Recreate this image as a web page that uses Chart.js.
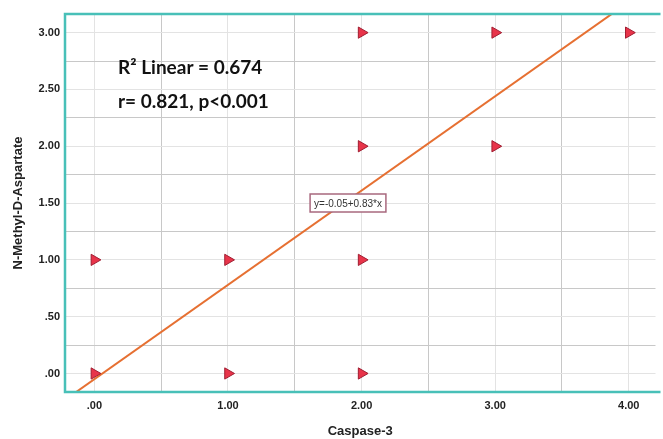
<!DOCTYPE html>
<html>
<head>
<meta charset="utf-8">
<script src="https://cdn.jsdelivr.net/npm/chart.js@4/dist/chart.umd.min.js"></script>
<style>
  html, body { margin: 0; padding: 0; background: #fff; }
  #wrap { width: 663px; height: 439px; position: relative; }
</style>
</head>
<body>
<div id="wrap"><canvas id="chart"></canvas></div>
<script>
// observed values (Caspase-3 vs N-Methyl-D-Aspartate)
const caspase3 = [0, 0, 1, 1, 2, 2, 2, 2, 3, 3, 4];
const nmda     = [1, 0, 1, 0, 3, 2, 1, 0, 3, 2, 3];

// fit line reported on the chart
const fitIntercept = -0.05;
const fitSlope = 0.83;
const fitLabel = 'y=-0.05+0.83*x';
const statLines = ['R² Linear = 0.674', 'r= 0.821, p<0.001'];

// axis ticks
const xTicks = [0, 1, 2, 3, 4];
const yTicks = [0, 0.5, 1, 1.5, 2, 2.5, 3];

const xMin = -0.22, xMax = 4.2;
const yMin = -0.163, yMax = 3.164;

const fmt = v => v.toFixed(2).replace(/^0\./, '.');
const near = (list, v) => list.some(t => Math.abs(t - v) < 1e-6);

function gridValues(from, to, step) {
    const out = [];
    for (let v = from; v <= to + 1e-9; v += step) out.push(Math.round(v * 100) / 100);
    return out;
}

const teal = 'rgb(72, 192, 184)';
const gridLight = '#e3e3e3';
const gridDark = '#c8c8c8';

const overlay = {
    id: 'overlay',
    afterDatasetsDraw(chart) {
        const { ctx } = chart;
        ctx.save();
        // stats text
        ctx.fillStyle = '#111';
        ctx.font = 'bold 19px Lato';
        ctx.textBaseline = 'middle';
        ctx.textAlign = 'left';
        ctx.fillText(statLines[0], 118, 68);
        ctx.fillText(statLines[1], 118, 102);

        // equation box
        ctx.font = '10px "Liberation Sans"';
        const cx = 348, cy = 203;
        const w = ctx.measureText(fitLabel).width + 8;
        ctx.fillStyle = '#fff';
        ctx.fillRect(cx - w / 2, cy - 9, w, 18);
        ctx.strokeStyle = '#a8687e';
        ctx.lineWidth = 1.5;
        ctx.strokeRect(cx - w / 2, cy - 9, w, 18);
        ctx.fillStyle = '#333';
        ctx.textAlign = 'center';
        ctx.fillText(fitLabel, cx, cy + 1);
        ctx.restore();
    },
    afterDraw(chart) {
        const { ctx, chartArea: a } = chart;
        ctx.save();
        ctx.strokeStyle = teal;
        ctx.lineWidth = 2.5;
        ctx.beginPath();
        ctx.moveTo(a.right + 5, a.top);
        ctx.lineTo(a.left, a.top);
        ctx.lineTo(a.left, a.bottom);
        ctx.lineTo(a.right + 5, a.bottom);
        ctx.stroke();
        ctx.restore();
    }
};

const tickFont = { family: 'Liberation Sans', size: 11, weight: 'bold' };
const titleFont = { family: 'Liberation Sans', size: 13, weight: 'bold' };

new Chart(document.getElementById('chart'), {
    type: 'scatter',
    data: {
        datasets: [
            {
                type: 'line',
                data: [xMin - 0.2, xMax + 0.2].map(v => ({ x: v, y: fitIntercept + fitSlope * v })),
                borderColor: 'rgb(230, 112, 50)',
                borderWidth: 2,
                pointRadius: 0,
                fill: false,
                order: 2,
            },
            {
                data: caspase3.map((v, i) => ({ x: v, y: nmda[i] })),
                pointStyle: 'triangle',
                rotation: 90,
                pointRadius: 6.5,
                backgroundColor: 'rgb(232, 52, 74)',
                borderColor: 'rgb(160, 30, 50)',
                borderWidth: 1,
                order: 1,
            },
        ],
    },
    options: {
        responsive: true,
        maintainAspectRatio: false,
        animation: false,
        layout: { padding: { top: 14, left: 0, right: 0, bottom: 0 } },
        plugins: { legend: { display: false }, tooltip: { enabled: false } },
        scales: {
            x: {
                type: 'linear',
                min: xMin,
                max: xMax,
                afterBuildTicks: s => { s.ticks = gridValues(0, 4, 0.5).map(v => ({ value: v })); },
                afterFit: s => { s.height = 47; },
                border: { display: false },
                grid: {
                    drawTicks: false,
                    color: c => near(xTicks, c.tick.value) ? gridLight : gridDark,
                },
                ticks: {
                    autoSkip: false,
                    maxRotation: 0,
                    padding: 7,
                    color: '#222',
                    font: tickFont,
                    callback: v => near(xTicks, v) ? fmt(v) : '',
                },
                title: {
                    display: true,
                    text: 'Caspase-3',
                    color: '#222',
                    font: titleFont,
                    padding: { top: 0, bottom: 0 },
                },
            },
            y: {
                type: 'linear',
                min: yMin,
                max: yMax,
                afterBuildTicks: s => { s.ticks = gridValues(0, 3, 0.25).map(v => ({ value: v })); },
                afterFit: s => { s.width = 65; },
                border: { display: false },
                grid: {
                    drawTicks: false,
                    color: c => near(yTicks, c.tick.value) ? gridLight : gridDark,
                },
                ticks: {
                    autoSkip: false,
                    padding: 5,
                    color: '#222',
                    font: tickFont,
                    callback: v => near(yTicks, v) ? fmt(v) : '',
                },
                title: {
                    display: true,
                    text: 'N-Methyl-D-Aspartate',
                    color: '#222',
                    font: titleFont,
                    padding: { top: 11, bottom: 0 },
                },
            },
        },
    },
    plugins: [overlay],
});
</script>
</body>
</html>
